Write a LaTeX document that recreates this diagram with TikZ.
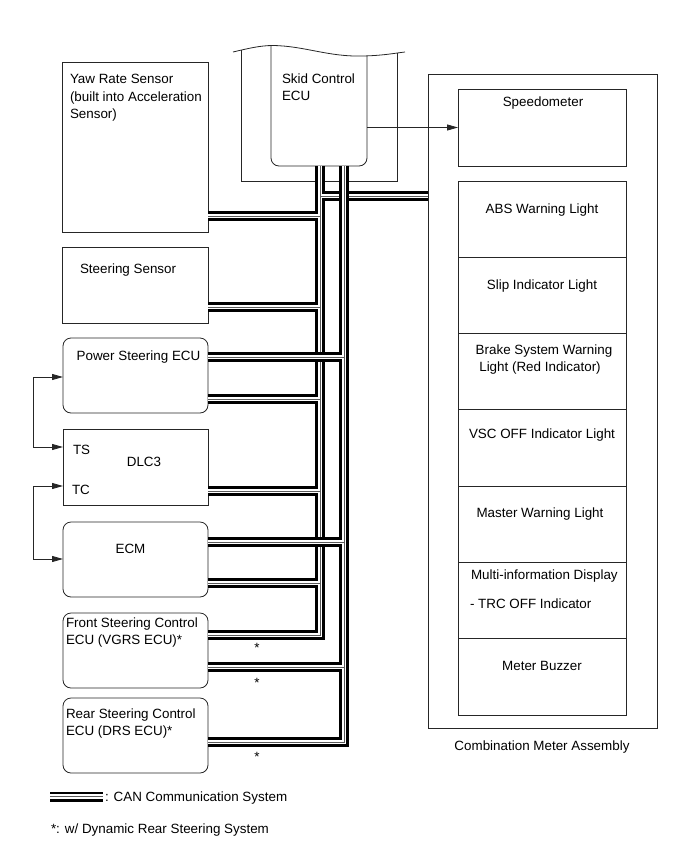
\documentclass[tikz,border=0pt]{standalone}
\usepackage{fontspec}
\setmainfont{Liberation Sans}
\usetikzlibrary{arrows.meta}
\newcommand\busgroupA[1]{%
  \draw[#1] (skid.south -| 320,0) -- (320,635) -- (front.east |- 0,635);
  \draw[#1] (yaw.east |- 0,216) -- (320,216);
  \draw[#1] (320,196) -- (comb.west |- 0,196);
  \draw[#1] (steer.east |- 0,307) -- (320,307);
  \draw[#1] (ps.east |- 0,399) -- (320,399);
  \draw[#1] (dlc.east |- 0,491) -- (320,491);
  \draw[#1] (ecm.east |- 0,583) -- (320,583);
}
\newcommand\busgroupB[1]{%
  \draw[#1] (skid.south -| 344,0) -- (344,742) -- (rear.east |- 0,742);
  \draw[#1] (ps.east |- 0,357) -- (344,357);
  \draw[#1] (ecm.east |- 0,542) -- (344,542);
  \draw[#1] (front.east |- 0,667) -- (344,667);
}
\begin{document}
\begin{tikzpicture}[x=1pt,y=-1pt,
  every node/.style={font=\fontsize{13.4pt}{17pt}\selectfont, inner sep=0pt, outer sep=0pt},
  boxline/.style={draw=black!85, line width=0.8pt},
  box/.style={boxline, rectangle},
  rbox/.style={boxline, rectangle, rounded corners=8pt},
  canblack/.style={line width=10pt, black, line join=miter},
  canwhite/.style={line width=4.8pt, white, line join=miter},
  cancenter/.style={line width=0.8pt, black!65, line join=miter},
  arr/.style={draw=black!85, line width=0.8pt, -{Triangle[length=11pt,width=6pt]}},
  darr/.style={draw=black!85, line width=0.8pt, {Triangle[length=11pt,width=6pt]}-{Triangle[length=11pt,width=6pt]}},
  lbl/.style={anchor=base west},
  clbl/.style={anchor=base}
]
\useasboundingbox (0,0) rectangle (689,854);

% ---------- Skid Control ECU ----------
\begin{scope}
  \clip (233,52) .. controls (248,48.5) and (260,45.5) .. (273,45.5)
        .. controls (305,46) and (328,57) .. (363,56)
        .. controls (384,55.5) and (396,53) .. (405,52)
        -- (405,200) -- (233,200) -- cycle;
  \draw[boxline] (241,30) -- (241,181) -- (397,181) -- (397,30);
  \draw[boxline, rounded corners=8pt] (271,30) -- (271,166) -- (367,166) -- (367,30);
\end{scope}
\draw[boxline] (233,52) .. controls (248,48.5) and (260,45.5) .. (273,45.5)
        .. controls (305,46) and (328,57) .. (363,56)
        .. controls (384,55.5) and (396,53) .. (405,52);
\node[minimum width=96pt, minimum height=120pt] (skid) at (319,106) {};
\node[lbl] (skidt1) at (282,83) {Skid Control};
\node[lbl] (skidt2) at (282,100) {ECU};

% ---------- Left boxes ----------
\node[box, minimum width=146pt, minimum height=170pt] (yaw) at (135,147) {};
\node[lbl] (yawt1) at (70,83) {Yaw Rate Sensor};
\node[lbl] (yawt2) at (70,101) {(built into Acceleration};
\node[lbl] (yawt3) at (70,118) {Sensor)};

\node[box, minimum width=146pt, minimum height=76pt] (steer) at (135,285) {};
\node[lbl] (steert) at (80,273) {Steering Sensor};

\node[rbox, minimum width=145pt, minimum height=75pt] (ps) at (135.5,375.5) {};
\node[clbl] (pst) at (138.5,360) {Power Steering ECU};

\node[box, minimum width=145pt, minimum height=76pt] (dlc) at (135.5,467) {};
\node[lbl] (dlcts) at (73,454) {TS};
\node[clbl] (dlct) at (144,466) {DLC3};
\node[lbl] (dlctc) at (72,494) {TC};

\node[rbox, minimum width=145pt, minimum height=75pt] (ecm) at (135.5,559.5) {};
\node[clbl] (ecmt) at (130.5,553) {ECM};

\node[rbox, minimum width=145pt, minimum height=75pt] (front) at (135.5,650.5) {};
\node[lbl] (frontt1) at (66,627) {Front Steering Control};
\node[lbl] (frontt2) at (66,644) {ECU (VGRS ECU)*};

\node[rbox, minimum width=145pt, minimum height=75pt] (rear) at (135.5,735.5) {};
\node[lbl] (reart1) at (66,718) {Rear Steering Control};
\node[lbl] (reart2) at (66,735) {ECU (DRS ECU)*};

% ---------- Combination meter ----------
\node[boxline, line width=1pt, rectangle, minimum width=229pt, minimum height=654pt] (comb) at (542.5,401) {};
\node[clbl] (combt) at (542,750) {Combination Meter Assembly};

\node[box, minimum width=168pt, minimum height=77pt] (spd) at (542,127.5) {};
\node[clbl] (spdt) at (543,106) {Speedometer};

\foreach \n [count=\i from 0] in {abs,slip,brake,vsc,master,multi,buzz}
  \node[box, minimum width=168pt, minimum height=76.29pt] (\n) at (542,{219.14+76.286*\i}) {};
\node[clbl] (abst) at (542,213) {ABS Warning Light};
\node[clbl] (slipt) at (542,289) {Slip Indicator Light};
\node[clbl] (braket1) at (544,354) {Brake System Warning};
\node[clbl] (braket2) at (540,371) {Light (Red Indicator)};
\node[clbl] (vsct) at (542,438) {VSC OFF Indicator Light};
\node[clbl] (mastert) at (540,517) {Master Warning Light};
\node[lbl] (multit1) at (471,579) {Multi-information Display};
\node[lbl] (multit2) at (470,608) {- TRC OFF Indicator};
\node[clbl] (buzzt) at (542,670) {Meter Buzzer};

% ---------- arrows ----------
\draw[arr] (spd.west -| skid.east) -- (spd.west);
\draw[darr] (ps.west |- 0,377) -- (33,377) -- (33,447) -- (dlc.west |- 0,447);
\draw[darr] (dlc.west |- 0,486) -- (33,486) -- (33,559) -- (ecm.west |- 0,559);

% ---------- CAN buses ----------
\busgroupA{canblack}
\busgroupA{canwhite}
\busgroupA{cancenter}
\busgroupB{canblack}
\busgroupB{canwhite}
\busgroupB{cancenter}

\node[clbl] (star1) at (257,652) {*};
\node[clbl] (star2) at (257,687) {*};
\node[clbl] (star3) at (257,761) {*};

% ---------- legend ----------
\coordinate (lg1) at (50,796.5);
\coordinate (lg2) at (103,796.5);
\draw[canblack] (lg1) -- (lg2);
\draw[canwhite] (lg1) -- (lg2);
\draw[cancenter] (lg1) -- (lg2);
\node[lbl] (lgt1) at (105,801) {: CAN Communication System};
\node[lbl] (lgt2) at (51,833) {*: w/ Dynamic Rear Steering System};
\end{tikzpicture}
\end{document}
